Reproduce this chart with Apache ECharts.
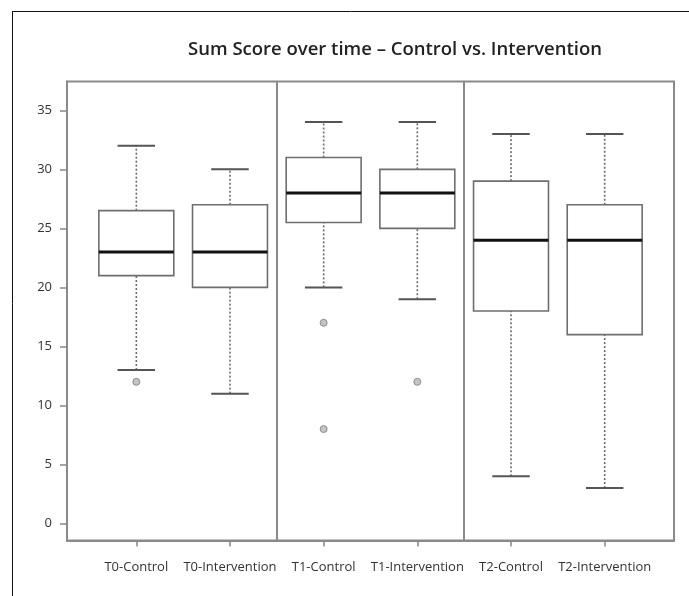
<!DOCTYPE html>
<html>
<head>
<meta charset="utf-8">
<script src="https://cdn.jsdelivr.net/npm/echarts@6/dist/echarts.min.js"></script>
<style>html,body{margin:0;padding:0;background:#fff;}#chart{width:689px;height:596px;}</style>
</head>
<body>
<div id="chart"></div>
<script>
const categories = ['T0-Control', 'T0-Intervention', 'T1-Control', 'T1-Intervention', 'T2-Control', 'T2-Intervention'];
const whiskerLow = [13, 11, 20, 19, 4, 3];
const q1 = [21, 20, 25.5, 25, 18, 16];
const median = [23, 23, 28, 28, 24, 24];
const q3 = [26.5, 27, 31, 30, 29, 27];
const whiskerHigh = [32, 30, 34, 34, 33, 33];
// outliers: [category index, value]
const outliers = [[0, 12], [2, 17], [2, 8], [3, 12]];
const yTicks = [0, 5, 10, 15, 20, 25, 30, 35];
const dividers = [2.5, 4.5];

const positions = categories.map((c, i) => i + 1);
const boxData = categories.map((c, i) => [positions[i], whiskerLow[i], q1[i], median[i], q3[i], whiskerHigh[i]]);
const outlierData = outliers.map(o => [positions[o[0]], o[1]]);

const chart = echarts.init(document.getElementById('chart'));
const labelFont = '"Open Sans", Lato, sans-serif';

function renderBox(params, api) {
  const x = api.value(0);
  const lo = api.value(1), a = api.value(2), m = api.value(3), b = api.value(4), hi = api.value(5);
  const half = api.size([0.4, 0])[0];
  const stapleHalf = api.size([0.2, 0])[0];
  const pLo = api.coord([x, lo]);
  const pA = api.coord([x, a]);
  const pM = api.coord([x, m]);
  const pB = api.coord([x, b]);
  const pHi = api.coord([x, hi]);
  const cx = pM[0];
  const dashStyle = { stroke: '#6a6a6a', lineWidth: 1.6, lineDash: [2, 2] };
  const stapleStyle = { stroke: '#555', lineWidth: 2 };
  return {
    type: 'group',
    children: [
      { type: 'line', shape: { x1: cx, y1: pB[1], x2: cx, y2: pHi[1] }, style: dashStyle },
      { type: 'line', shape: { x1: cx, y1: pLo[1], x2: cx, y2: pA[1] }, style: dashStyle },
      { type: 'line', shape: { x1: cx - stapleHalf, y1: pHi[1], x2: cx + stapleHalf, y2: pHi[1] }, style: stapleStyle },
      { type: 'line', shape: { x1: cx - stapleHalf, y1: pLo[1], x2: cx + stapleHalf, y2: pLo[1] }, style: stapleStyle },
      { type: 'rect', shape: { x: cx - half, y: pB[1], width: half * 2, height: pA[1] - pB[1] },
        style: { fill: '#fff', stroke: '#6e6e6e', lineWidth: 1.6 } },
      { type: 'line', shape: { x1: cx - half, y1: pM[1], x2: cx + half, y2: pM[1] },
        style: { stroke: '#111', lineWidth: 3 } }
    ]
  };
}

chart.setOption({
  backgroundColor: '#fff',
  animation: false,
  title: {
    text: 'Sum Score over time \u2013 Control vs. Intervention',
    left: 390,
    textAlign: 'center',
    top: 35,
    textStyle: { fontFamily: labelFont, fontSize: 18.5, fontWeight: 600, color: '#222' }
  },
  graphic: [
    { type: 'line', shape: { x1: 12, y1: 11.5, x2: 689, y2: 11.5 }, style: { stroke: '#111', lineWidth: 1 }, silent: true },
    { type: 'line', shape: { x1: 12.5, y1: 11, x2: 12.5, y2: 596 }, style: { stroke: '#111', lineWidth: 1 }, silent: true }
  ],
  grid: {
    left: 67, right: 15, top: 81.5, bottom: 55.5,
    show: true, borderColor: '#8a8a8a', borderWidth: 2, backgroundColor: '#fff'
  },
  xAxis: {
    type: 'value', min: 0.26, max: 6.74,
    axisLine: { show: true, onZero: false, lineStyle: { color: '#8a8a8a', width: 2 } },
    splitLine: { show: false },
    axisTick: { show: true, inside: false, customValues: positions, length: 6, lineStyle: { color: '#888', width: 1.5 } },
    axisLabel: {
      customValues: positions, margin: 20,
      formatter: v => categories[Math.round(v) - 1] || '',
      fontFamily: labelFont, fontSize: 13, color: '#333'
    }
  },
  yAxis: {
    type: 'value', min: -1.44, max: 37.44,
    axisLine: { show: true, onZero: false, lineStyle: { color: '#8a8a8a', width: 2 } },
    splitLine: { show: false },
    axisTick: { show: true, inside: false, customValues: yTicks, length: 7, lineStyle: { color: '#888', width: 1.5 } },
    axisLabel: { customValues: yTicks, margin: 15, fontFamily: labelFont, fontSize: 13, color: '#333' }
  },
  series: [
    {
      type: 'custom',
      renderItem: renderBox,
      encode: { x: 0, y: [1, 2, 3, 4, 5] },
      data: boxData,
      z: 3
    },
    {
      type: 'scatter',
      data: outlierData,
      symbol: 'circle',
      symbolSize: 7,
      itemStyle: { color: '#b5b5b5', borderColor: '#7a7a7a', borderWidth: 1 },
      z: 4,
      markLine: {
        silent: true,
        symbol: 'none',
        label: { show: false },
        lineStyle: { color: '#8a8a8a', width: 2, type: 'solid' },
        data: dividers.map(d => ({ xAxis: d }))
      }
    }
  ]
});
</script>
</body>
</html>
